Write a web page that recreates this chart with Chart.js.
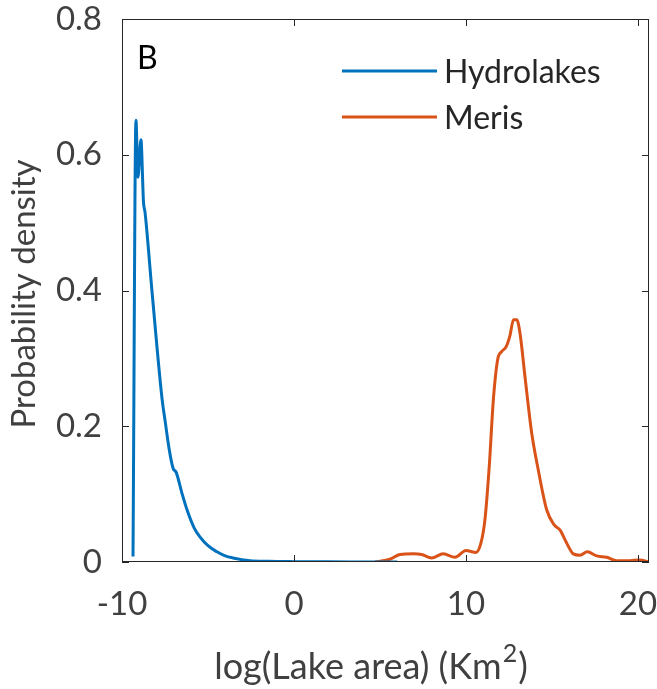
<!DOCTYPE html>
<html>
<head>
<meta charset="utf-8">
<script src="https://cdn.jsdelivr.net/npm/chart.js@4.4.1/dist/chart.umd.min.js"></script>
<style>
  html, body { margin: 0; padding: 0; background: #fff; }
  #wrap { position: relative; width: 657px; height: 689px; }
</style>
</head>
<body>
<div id="wrap"><canvas id="chart" width="657" height="689"></canvas></div>
<script>
'use strict';

// ── Data ──────────────────────────────────────────────────────────────────────
const HYDRO_X = [-9.36, -9.19, -9.07, -8.9, -8.75, -8.66, -8.26, -7.67, -7.5, -7.25, -7.03, -6.85,
                 -6.5, -6.22, -5.8, -5.47, -5.0, -4.48, -4.0, -3.55, -2.56, -1.5, 0, 2, 4, 6];
const HYDRO_Y = [0.008, 0.651, 0.567, 0.622, 0.53, 0.515, 0.40, 0.24, 0.209, 0.165, 0.138, 0.132,
                 0.10, 0.077, 0.05, 0.037, 0.024, 0.015, 0.009, 0.006, 0.002, 0.001, 0.0005, 0.0002, 0.0001, 0];

const MERIS_X = [4.71, 5.58, 6.16, 6.94, 7.42, 8.0, 8.68, 9.36, 10.0, 10.58, 10.87, 11.1, 11.35,
                 11.59, 11.84, 12.07, 12.33, 12.56, 12.76, 12.95, 13.14, 13.43, 13.82, 14.2, 14.69,
                 15.12, 15.47, 15.85, 16.24, 16.63, 17.05, 17.6, 18.18, 18.76, 19.53, 20.1, 20.64];
const MERIS_Y = [0.0, 0.004, 0.011, 0.012, 0.011, 0.006, 0.012, 0.007, 0.017, 0.014, 0.028, 0.062, 0.14,
                 0.239, 0.298, 0.31, 0.317, 0.334, 0.357, 0.357, 0.337, 0.273, 0.19, 0.136, 0.077,
                 0.055, 0.047, 0.028, 0.012, 0.01, 0.015, 0.009, 0.007, 0.002, 0.002, 0.003, 0.0];

const SERIES   = ['Hydrolakes', 'Meris'];
const COLORS   = ['#0072BD', '#D95319'];
const X_TICKS  = [-10, 0, 10, 20];
const Y_TICKS  = [0, 0.2, 0.4, 0.6, 0.8];
const X_RANGE  = [-10, 20.64];
const Y_RANGE  = [0, 0.8];

const FONT     = 'Lato, "Noto Sans", sans-serif';
const TXT      = '#404040';
const AXIS     = '#262626';

// ── Helpers ───────────────────────────────────────────────────────────────────
const toPts = (xs, ys) => xs.map((x, i) => ({ x, y: ys[i] }));

// box, inward ticks, legend, panel letter, axis titles
const matlabAxes = {
  id: 'matlabAxes',
  afterDraw(chart) {
    const { ctx, chartArea: a, scales: { x, y } } = chart;
    ctx.save();
    ctx.strokeStyle = AXIS;
    ctx.lineWidth = 1;
    ctx.strokeRect(a.left + 0.5, a.top + 0.5, a.right - a.left - 1, a.bottom - a.top - 1);
    const tl = 7;
    ctx.beginPath();
    X_TICKS.forEach(v => {
      const px = Math.round(x.getPixelForValue(v)) + 0.5;
      ctx.moveTo(px, a.bottom); ctx.lineTo(px, a.bottom - tl);
      ctx.moveTo(px, a.top);    ctx.lineTo(px, a.top + tl);
    });
    Y_TICKS.forEach(v => {
      const py = Math.round(y.getPixelForValue(v)) + 0.5;
      ctx.moveTo(a.left, py);  ctx.lineTo(a.left + tl, py);
      ctx.moveTo(a.right, py); ctx.lineTo(a.right - tl, py);
    });
    ctx.stroke();

    // legend
    ctx.font = `32px ${FONT}`;
    ctx.textBaseline = 'alphabetic';
    ctx.textAlign = 'left';
    SERIES.forEach((name, i) => {
      const ly = 71 + i * 46;
      ctx.strokeStyle = COLORS[i];
      ctx.lineWidth = 3;
      ctx.beginPath(); ctx.moveTo(342, ly); ctx.lineTo(437, ly); ctx.stroke();
      ctx.fillStyle = '#262626';
      ctx.fillText(name, 444, ly + 12);
    });

    // panel letter
    ctx.fillStyle = '#000';
    ctx.font = `32px ${FONT}`;
    ctx.fillText('B', 137, 69);

    // y title
    ctx.fillStyle = TXT;
    ctx.font = `33px ${FONT}`;
    ctx.save();
    ctx.translate(35, 294);
    ctx.rotate(-Math.PI / 2);
    ctx.textAlign = 'center';
    ctx.fillText('Probability density', 0, 0);
    ctx.restore();

    // x title with superscript
    const main = 'log(Lake area) (Km', sup = '2', tail = ')';
    ctx.font = `36px ${FONT}`;
    const w1 = ctx.measureText(main).width, w3 = ctx.measureText(tail).width;
    ctx.font = `25px ${FONT}`;
    const w2 = ctx.measureText(sup).width;
    let sx = 370 - (w1 + w2 + w3) / 2;
    const by = 679;
    ctx.font = `36px ${FONT}`;
    ctx.fillText(main, sx, by); sx += w1 + 1;
    ctx.font = `25px ${FONT}`;
    ctx.fillText(sup, sx, by - 17); sx += w2 + 1;
    ctx.font = `36px ${FONT}`;
    ctx.fillText(tail, sx, by);
    ctx.restore();
  }
};

// ── Chart ─────────────────────────────────────────────────────────────────────
new Chart(document.getElementById('chart').getContext('2d'), {
  type: 'line',
  data: {
    datasets: [
      { label: SERIES[0], data: toPts(HYDRO_X, HYDRO_Y), borderColor: COLORS[0] },
      { label: SERIES[1], data: toPts(MERIS_X, MERIS_Y), borderColor: COLORS[1] }
    ].map(d => ({ ...d, borderWidth: 3, pointRadius: 0, fill: false,
                  cubicInterpolationMode: 'monotone', borderJoinStyle: 'round' }))
  },
  options: {
    responsive: false,
    animation: false,
    layout: { padding: { top: 19, right: 8, left: 0, bottom: 0 } },
    plugins: { legend: { display: false }, tooltip: { enabled: false } },
    scales: {
      x: {
        type: 'linear', min: X_RANGE[0], max: X_RANGE[1],
        afterBuildTicks: s => { s.ticks = X_TICKS.map(v => ({ value: v })); },
        afterFit: s => { s.height = 127; s.paddingLeft = 0; s.paddingRight = 0; },
        grid: { display: false, drawTicks: false }, border: { display: false },
        ticks: { color: TXT, padding: 23, font: { family: FONT, size: 33 }, maxRotation: 0 }
      },
      y: {
        min: Y_RANGE[0], max: Y_RANGE[1],
        afterBuildTicks: s => { s.ticks = Y_TICKS.map(v => ({ value: v })); },
        afterFit: s => { s.width = 122; s.paddingTop = 0; s.paddingBottom = 0; },
        grid: { display: false, drawTicks: false }, border: { display: false },
        ticks: { color: TXT, padding: 20, font: { family: FONT, size: 33 },
                 callback: v => v === 0 ? '0' : v.toFixed(1) }
      }
    }
  },
  plugins: [matlabAxes]
});
</script>
</body>
</html>
